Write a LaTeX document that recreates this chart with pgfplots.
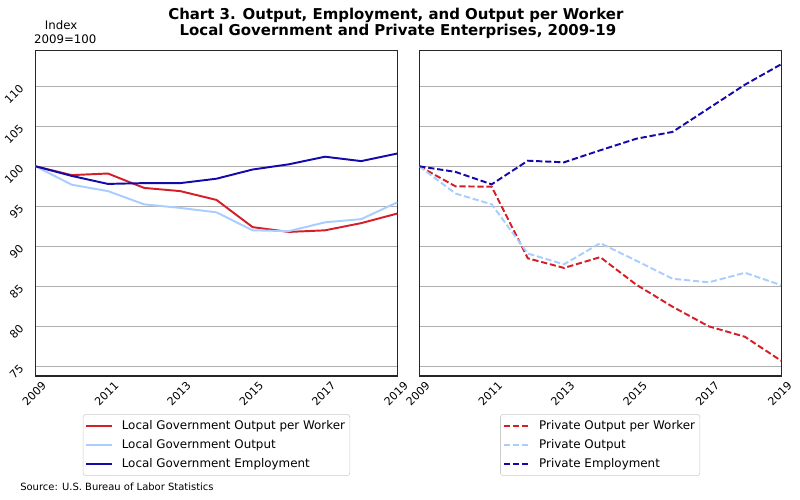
\documentclass[border=0pt]{standalone}
\usepackage{fontspec}
\setmainfont{DejaVu Sans}
\usepackage{pgfplots}
\pgfplotsset{compat=1.18}

\definecolor{cred}{RGB}{214,30,40}
\definecolor{clight}{RGB}{170,205,255}
\definecolor{cdark}{RGB}{20,10,170}
\definecolor{cgrid}{RGB}{176,176,176}

\pgfplotsset{
  panel/.style={
    scale only axis,
    width=260.5bp, height=234.5bp,
    anchor=south west,
    xmin=2009, xmax=2019,
    ymin=73.8, ymax=114.5,
    xtick={2009,2011,...,2019},
    ytick={75,80,...,110},
    /pgf/number format/1000 sep={},
    /pgf/number format/assume math mode=true,
    major tick length=0pt,
    ymajorgrids=true,
    grid style={cgrid, line width=0.8bp},
    axis line style={black!85, line width=0.8bp},
    tick label style={font=\fontsize{8}{9.6}\selectfont},
    xticklabel style={anchor=center, yshift=-13bp, xshift=-1bp, rotate=45},
    yticklabel style={anchor=east, inner sep=0pt, xshift=-10bp, rotate=45},
    legend style={at={(0.5,-0.117)}, anchor=north,
      font=\fontsize{8.6}{10}\selectfont,
      draw=black!20, rounded corners=2bp,
      inner xsep=1.5bp, inner ysep=2.5bp, row sep=1.6bp},
    legend cell align=left,
    legend image code/.code={\draw[##1] (0bp,0bp) -- (18.5bp,0bp); \path (23bp,0bp);},
    every axis plot/.append style={line width=1.4bp},
  },
  pdash/.style={dash pattern=on 4.5bp off 2bp},
}

\begin{document}
\begin{tikzpicture}
\path[use as bounding box] (0,0) rectangle (576bp,360bp);

\begin{axis}[panel, at={(25.6bp,89.3bp)}]
\addplot[cred] coordinates {(2009,100) (2010,98.9) (2011,99.1) (2012,97.3) (2013,96.9) (2014,95.8) (2015,92.4) (2016,91.8) (2017,92.0) (2018,92.9) (2019,94.1)};
\addlegendentry{Local Government Output per Worker}
\addplot[clight] coordinates {(2009,100) (2010,97.7) (2011,96.9) (2012,95.25) (2013,94.8) (2014,94.25) (2015,92.0) (2016,91.9) (2017,93.0) (2018,93.4) (2019,95.5)};
\addlegendentry{Local Government Output}
\addplot[cdark] coordinates {(2009,100) (2010,98.8) (2011,97.8) (2012,97.9) (2013,97.9) (2014,98.45) (2015,99.6) (2016,100.25) (2017,101.2) (2018,100.65) (2019,101.6)};
\addlegendentry{Local Government Employment}
\end{axis}

\begin{axis}[panel, at={(301.9bp,89.3bp)}, yticklabels={}]
\addplot[cred, pdash] coordinates {(2009,100) (2010,97.5) (2011,97.45) (2012,88.5) (2013,87.3) (2014,88.65) (2015,85.2) (2016,82.45) (2017,80.0) (2018,78.7) (2019,75.7)};
\addlegendentry{Private Output per Worker}
\addplot[clight, pdash] coordinates {(2009,100) (2010,96.6) (2011,95.25) (2012,89.1) (2013,87.75) (2014,90.4) (2015,88.2) (2016,85.95) (2017,85.5) (2018,86.7) (2019,85.15)};
\addlegendentry{Private Output}
\addplot[cdark, pdash] coordinates {(2009,100) (2010,99.3) (2011,97.75) (2012,100.7) (2013,100.5) (2014,102.0) (2015,103.45) (2016,104.3) (2017,107.25) (2018,110.2) (2019,112.75)};
\addlegendentry{Private Employment}
\end{axis}

\node[anchor=base, font=\fontsize{10.8}{13}\selectfont\bfseries] at (285bp,346.3bp) {Chart 3. Output, Employment, and Output per Worker};
\node[anchor=base, font=\fontsize{10.8}{13}\selectfont\bfseries] at (286.5bp,334.1bp) {Local Government and Private Enterprises, 2009-19};
\node[anchor=base, font=\fontsize{8.5}{10}\selectfont] at (44bp,339bp) {Index};
\node[anchor=base, font=\fontsize{8.5}{10}\selectfont] at (47bp,328.8bp) {2009=100};
\node[anchor=base west, inner sep=0pt, font=\fontsize{7.2}{8}\selectfont] at (14.4bp,6.5bp) {Source: U.S. Bureau of Labor Statistics};
\end{tikzpicture}
\end{document}
